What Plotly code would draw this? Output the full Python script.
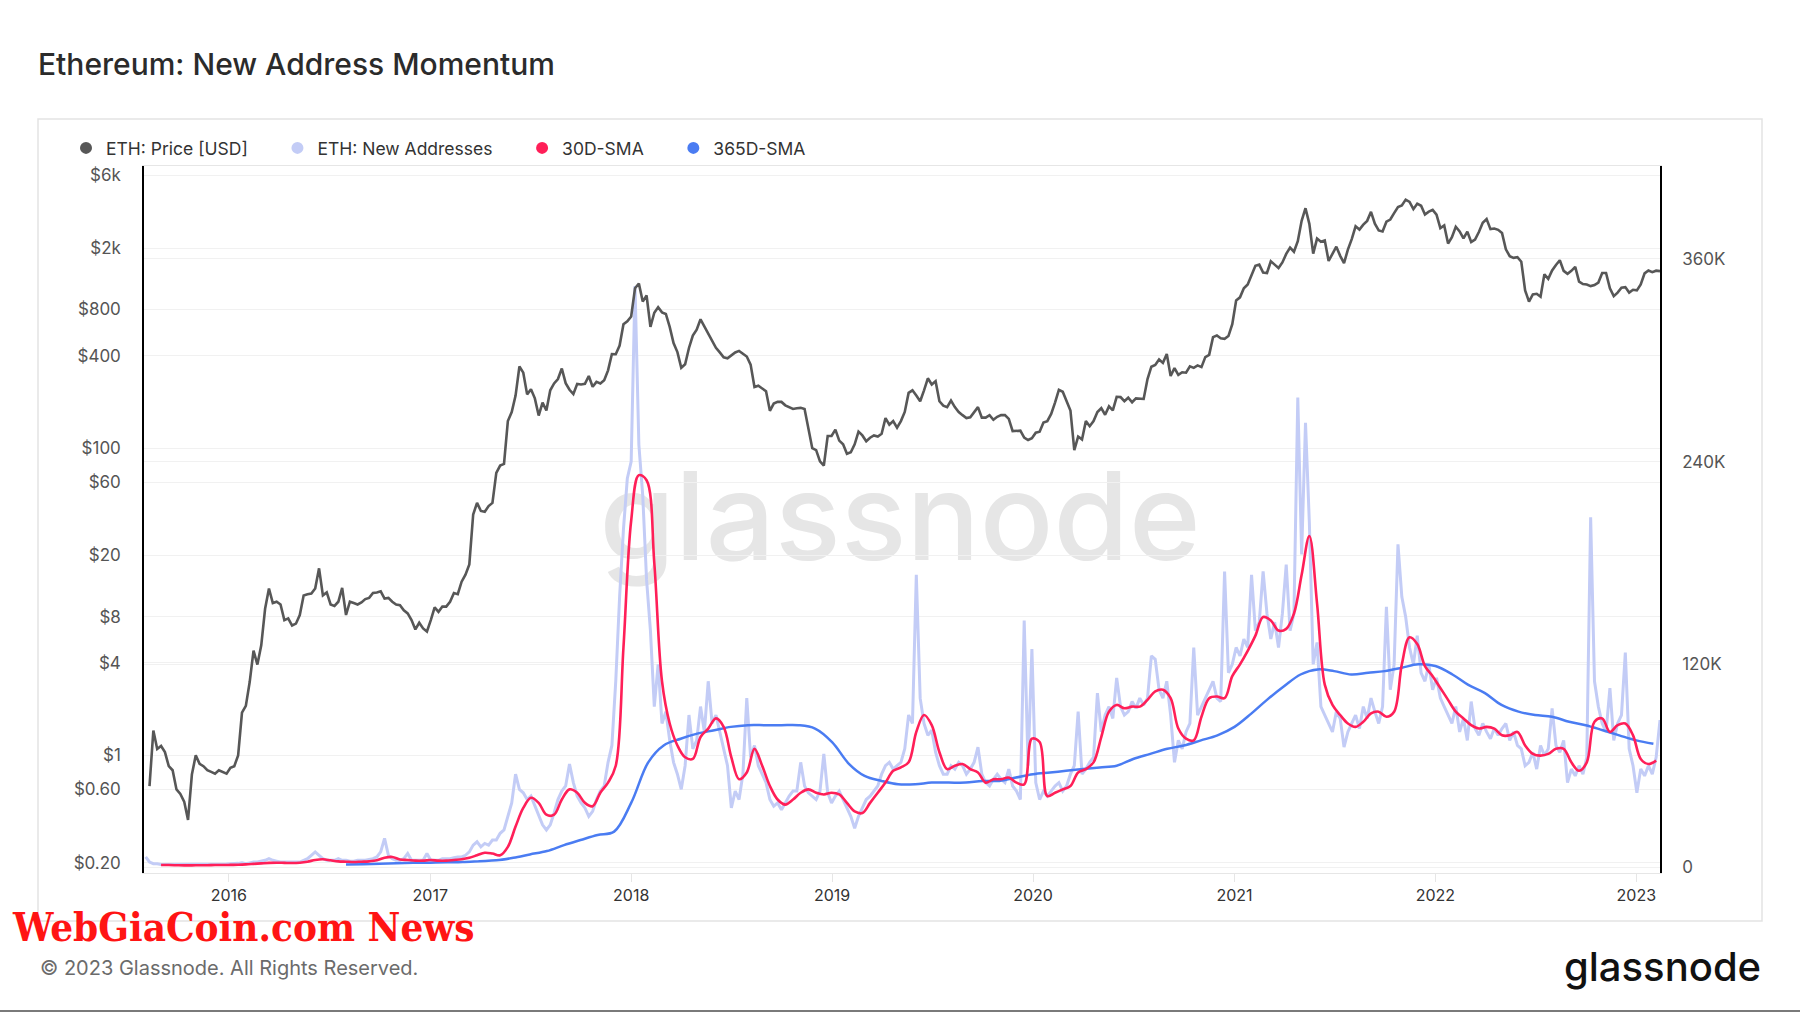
import pandas as pd
import plotly.graph_objects as go

# ---------------- data ----------------
# weekly samples (Mondays) starting 2015-08-03, one row = 13 weeks
week_start = "2015-08-03"

price_usd = [
    None, 0.63, 1.45, 1.1, 1.15, 1.05, 0.85, 0.8, 0.6, 0.56, 0.5, 0.38, 0.75,
    1.0, 0.88, 0.85, 0.8, 0.78, 0.76, 0.8, 0.78, 0.76, 0.83, 0.85, 1.0, 1.9,
    2.1, 3.0, 4.8, 3.9, 5.2, 9.0, 12.2, 9.8, 10.0, 9.6, 7.6, 7.8, 7.0,
    7.2, 8.2, 11.0, 11.2, 11.3, 12.2, 16.5, 11.0, 11.5, 9.6, 9.4, 10.0, 12.3,
    8.2, 10.0, 9.8, 9.6, 9.9, 10.4, 10.6, 11.4, 11.5, 11.7, 10.5, 10.6, 10.0,
    9.6, 9.5, 8.8, 8.4, 7.6, 6.6, 7.3, 6.7, 6.4, 7.6, 9.2, 8.6, 9.3,
    9.3, 10.0, 11.4, 11.2, 13.5, 15.0, 17.5, 37.0, 44.0, 39.0, 38.5, 42.0, 44.0,
    69, 77, 79, 150, 172, 220, 340, 310, 224, 242, 211, 163, 198,
    176, 238, 264, 282, 330, 265, 240, 225, 262, 260, 262, 295, 251,
    270, 264, 277, 321, 410, 409, 466, 640, 669, 720, 1100, 1180, 900,
    986, 616, 761, 827, 766, 748, 616, 484, 422, 334, 352, 449, 540,
    590, 690, 620, 560, 500, 450, 420, 390, 385, 405, 420, 430, 410,
    395, 350, 250, 255, 245, 235, 175, 195, 200, 200, 190, 185, 180,
    182, 183, 180, 130, 100, 97, 82, 77, 120, 120, 132, 112, 106,
    92, 94, 106, 128, 121, 111, 117, 121, 119, 124, 157, 142, 150,
    136, 150, 172, 229, 238, 220, 202, 238, 285, 260, 273, 202, 189,
    185, 204, 185, 172, 164, 157, 159, 173, 185, 158, 158, 164, 153,
    160, 164, 164, 155, 129, 130, 130, 117, 113, 116, 126, 128, 147,
    150, 167, 198, 240, 233, 202, 176, 97, 119, 114, 150, 139, 150,
    172, 182, 165, 187, 176, 216, 215, 202, 213, 199, 211, 211, 209,
    282, 339, 348, 378, 359, 410, 295, 332, 300, 312, 310, 341, 333,
    346, 337, 392, 405, 528, 541, 519, 515, 537, 642, 915, 959, 1100,
    1162, 1329, 1540, 1566, 1390, 1382, 1646, 1566, 1487, 1619, 1839, 2024, 1901,
    2226, 3018, 3650, 2886, 1848, 2314, 2209, 2253, 1654, 1839, 2050, 1786, 1602,
    1962, 2297, 2781, 2649, 2851, 3018, 3458, 2895, 2614, 2578, 2983, 3080, 3388,
    3714, 3802, 4150, 4013, 3599, 3907, 3784, 3318, 3467, 3555, 3318, 2710, 2816,
    2147, 2367, 2763, 2578, 2323, 2570, 2200, 2279, 2552, 2930, 3098, 2666, 2693,
    2640, 2517, 1971, 1778, 1734, 1751, 1637, 1065, 900, 1003, 1012, 968, 1355,
    1267, 1434, 1558, 1672, 1426, 1364, 1426, 1514, 1214, 1170, 1162, 1135, 1153,
    1197, 1382, 1382, 1100, 977, 1030, 1109, 1118, 1030, 1074, 1065, 1162, 1373,
    1434, 1400, 1430, 1420,
]

# new addresses per day, thousands, same weekly grid
new_addresses_k = [
    6, 3, 2, 2, 1.5, 1.5, 1.5, 1.5, 1.5, 1.5, 1.5, 1.5, 1.5,
    1.5, 1.5, 1.5, 1.5, 1.5, 1.5, 1.5, 1.8, 1.8, 2, 2, 2.2, 2.5,
    2, 2.5, 3, 3, 3.5, 4, 5, 4, 3.5, 3, 3, 3, 3,
    3, 3, 4, 5, 7, 9, 7, 5, 4, 4, 4, 5, 4,
    4, 3.5, 3.5, 4, 4, 4, 4.5, 5, 6, 9, 17, 7, 5,
    4, 4, 5, 8, 4, 4, 4, 4, 8, 4, 4, 4, 5,
    5, 5, 5.5, 6, 6, 7, 9, 13, 15, 12, 14, 13, 16,
    16, 20, 22, 30, 38, 55, 46, 44, 40, 42, 36, 30, 25,
    22, 25, 32, 40, 45, 48, 61, 50, 42, 38, 35, 30, 33,
    40, 45, 48, 62, 72, 110, 160, 200, 230, 240, 344, 250, 220,
    170, 140, 95, 120, 85, 92, 75, 62, 55, 46, 60, 90, 70,
    75, 95, 80, 110, 85, 90, 80, 70, 60, 35, 45, 40, 55,
    100, 65, 72, 60, 55, 50, 40, 36, 38, 34, 38, 42, 45,
    45, 62, 48, 44, 42, 40, 45, 67, 44, 38, 42, 45, 40,
    35, 30, 23, 30, 35, 40, 42, 45, 48, 55, 60, 62, 58,
    60, 62, 70, 90, 85, 173, 100, 85, 78, 81, 68, 60, 55,
    55, 60, 58, 62, 60, 55, 58, 62, 71, 55, 50, 48, 52,
    55, 52, 50, 58, 48, 45, 40, 146, 60, 129, 50, 40, 45,
    42, 45, 48, 50, 45, 48, 55, 60, 92, 55, 58, 62, 65,
    103, 80, 90, 95, 88, 112, 95, 90, 92, 98, 94, 100, 96,
    100, 125, 123, 105, 100, 110, 90, 62, 75, 70, 80, 85, 130,
    90, 95, 100, 105, 110, 100, 98, 175, 115, 120, 130, 125, 135,
    130, 173, 140, 145, 175, 150, 135, 145, 130, 150, 179, 140, 150,
    278, 185, 263, 204, 120, 133, 95, 90, 85, 80, 92, 88, 71,
    80, 85, 90, 82, 95, 88, 100, 92, 85, 95, 154, 105, 120,
    191, 160, 148, 130, 120, 137, 115, 110, 120, 105, 112, 100, 95,
    90, 85, 95, 80, 88, 75, 98, 82, 78, 85, 80, 76, 82,
    78, 82, 85, 75, 80, 72, 70, 60, 62, 68, 58, 72, 66,
    70, 94, 72, 68, 75, 50, 58, 54, 60, 55, 65, 207, 110,
    95, 85, 80, 106, 75, 85, 90, 127, 70, 60, 44, 58, 54,
    60, 55, 65, 87,
]

# 30D-SMA, thousands, every 14 days from 2015-08-31 (two rows = 1 year)
sma30_start = "2015-08-31"
sma30_k = [
    1.2, 1.2, 1.1, 1.0, 1.0, 1.1, 1.1, 1.2, 1.2, 1.3, 1.4, 1.6, 1.9,
    2.2, 2.5, 2.6, 2.5, 2.4, 2.6, 3.2, 4.2, 4.6, 4.0, 3.4, 3.2, 3.0,
    3.2, 3.4, 4.0, 5.5, 6.0, 4.5, 4.2, 3.8, 3.8, 4.2, 3.8, 3.8, 4.2,
    4.6, 5.5, 7.0, 8.5, 8.0, 7.0, 12, 24, 35, 41, 38, 31, 31,
    40, 46, 44, 38, 36, 44, 50, 60, 130, 205, 232, 229, 180,
    110, 85, 72, 65, 64, 77, 82, 88, 83, 65, 52, 56, 70,
    60, 48, 40, 37, 40, 44, 46, 44, 43, 44, 43, 38, 33,
    32, 38, 44, 50, 57, 59, 62, 80, 90, 84, 68, 58, 60,
    61, 58, 56, 50, 52, 52, 53, 50, 49, 76, 74, 42, 44,
    46, 48, 56, 58, 62, 77, 92, 96, 94, 95, 95, 99, 104,
    105, 100, 82, 76, 75, 89, 100, 101, 100, 113, 120, 128, 137,
    148, 146, 140, 141, 150, 173, 196, 156, 108, 96, 90, 85, 83,
    86, 91, 92, 89, 92, 120, 136, 132, 119, 113, 106, 99, 92,
    88, 84, 82, 83, 82, 78, 78, 80, 72, 67, 66, 67, 70,
    70, 62, 57, 62, 86, 88, 80, 84, 85, 78, 64, 61, 63,
]

# 365D-SMA, thousands, monthly from 2016-08-01
sma365_start = "2016-08-01"
sma365_k = [
    1.5, 1.7, 2.0, 2.3, 2.5,
    2.6, 2.8, 3.0, 3.5, 4.0, 5.5, 7.5, 9.5, 13, 16, 19, 21,
    38, 62, 72, 76, 79, 81, 83, 84, 84, 84, 84, 82,
    74, 61, 54, 51, 49, 49, 50, 50, 50, 51, 51, 53,
    55, 56, 57, 58, 59, 60, 64, 67, 70, 72, 75, 78,
    83, 91, 99, 107, 114, 117, 116, 114, 115, 116, 118, 120,
    119, 114, 108, 103, 96, 92, 90, 89, 86, 84, 81, 78,
    75, 73,
]

price_tickvals = [0.2, 0.6, 1, 4, 8, 20, 60, 100, 400, 800, 2000, 6000]
price_ticktext = ["$0.20", "$0.60", "$1", "$4", "$8", "$20", "$60", "$100",
                  "$400", "$800", "$2k", "$6k"]
addr_tickvals = [0, 120, 240, 360]
addr_ticktext = ["0", "120K", "240K", "360K"]
year_ticks = ["2016-01-01", "2017-01-01", "2018-01-01", "2019-01-01",
              "2020-01-01", "2021-01-01", "2022-01-01", "2023-01-01"]
year_labels = ["2016", "2017", "2018", "2019", "2020", "2021", "2022", "2023"]

# ---------------- layout helpers ----------------
W, H = 1800, 1013
L, R, T, B = 144, 140, 166, 140


def px(x):
    return (x - L) / (W - L - R)


def py(y):
    return (H - B - y) / (H - T - B)


FONT = "Inter"
C_PRICE = "#575757"
C_NEW = "#c3ccf6"
C_30 = "#ff1f58"
C_365 = "#4a7cf2"
PAD = "\u00a0" * 5   # extra room between legend entries

weeks = pd.date_range(week_start, periods=len(price_usd), freq="7D")
weeks_na = pd.date_range(week_start, periods=len(new_addresses_k), freq="7D")
sma30_dates = pd.date_range(sma30_start, periods=len(sma30_k), freq="14D")
sma365_dates = pd.date_range(sma365_start, periods=len(sma365_k), freq="MS")

fig = go.Figure()

fig.add_trace(go.Scatter(x=weeks_na, y=new_addresses_k, yaxis="y",
                         mode="lines", line=dict(color=C_NEW, width=3),
                         showlegend=False, name="ETH: New Addresses"))
fig.add_trace(go.Scatter(x=sma365_dates, y=sma365_k, yaxis="y",
                         mode="lines", line=dict(color=C_365, width=2.5, shape="spline"),
                         showlegend=False, name="365D-SMA"))
fig.add_trace(go.Scatter(x=sma30_dates, y=sma30_k, yaxis="y",
                         mode="lines", line=dict(color=C_30, width=2.6, shape="spline"),
                         showlegend=False, name="30D-SMA"))
fig.add_trace(go.Scatter(x=weeks, y=price_usd, yaxis="y2",
                         mode="lines", line=dict(color=C_PRICE, width=2.6),
                         showlegend=False, name="ETH: Price [USD]"))

# legend entries with round markers
for name, col in [("ETH: Price [USD]" + PAD, C_PRICE), ("ETH: New Addresses" + PAD, C_NEW),
                  ("30D-SMA" + PAD, C_30), ("365D-SMA", C_365)]:
    fig.add_trace(go.Scatter(x=[None], y=[None], mode="markers", name=name,
                             marker=dict(color=col, size=12, symbol="circle")))

fig.update_layout(
    width=W, height=H, autosize=False,
    margin=dict(l=L, r=R, t=T, b=B),
    paper_bgcolor="white", plot_bgcolor="white",
    font=dict(family=FONT, color="#333"),
    title=dict(text="Ethereum: New Address Momentum", xref="container", yref="container",
               x=38 / W, xanchor="left", y=1 - 64 / H, yanchor="middle",
               font=dict(family=FONT, size=30, color="#2b2b2b", weight=500)),
    legend=dict(orientation="h", x=px(66), xanchor="left", y=py(148), yanchor="middle",
                font=dict(family=FONT, size=17.5, color="#333"), bgcolor="rgba(0,0,0,0)"),
    xaxis=dict(type="date", range=["2015-07-31", "2023-02-13"],
               tickvals=year_ticks, ticktext=year_labels,
               showgrid=False, zeroline=False,
               showline=True, linecolor="#e6e6e6", linewidth=1, mirror=True,
               ticks="outside", ticklen=8, tickcolor="#e6e6e6",
               tickfont=dict(family=FONT, size=16, color="#333")),
    yaxis=dict(side="right", range=[-3.5, 415],
               tickvals=addr_tickvals, ticktext=addr_ticktext,
               showgrid=True, gridcolor="#f1f1f1", zeroline=False,
               showline=True, linecolor="black", linewidth=1.5,
               ticks="", ticklabelstandoff=17,
               tickfont=dict(family=FONT, size=17, color="#555")),
    yaxis2=dict(overlaying="y", side="left", type="log", range=[-0.766, 3.837],
                tickvals=price_tickvals, ticktext=price_ticktext,
                showgrid=True, gridcolor="#f1f1f1", zeroline=False,
                showline=True, linecolor="black", linewidth=1.5,
                ticks="", ticklabelstandoff=18,
                tickfont=dict(family=FONT, size=17, color="#555")),
    shapes=[
        dict(type="rect", xref="paper", yref="paper",
             x0=px(38), x1=px(1762), y0=py(921), y1=py(119),
             line=dict(color="#e3e3e3", width=1.5), layer="below"),
        dict(type="rect", xref="paper", yref="paper",
             x0=px(600), x1=px(1200), y0=py(564), y1=py(459),
             line=dict(width=0), layer="below",
             label=dict(text="glassnode", textposition="middle center",
                        font=dict(family=FONT, size=122, color="#e6e6e6", weight=500))),
        dict(type="line", xref="paper", yref="paper",
             x0=px(0), x1=px(1800), y0=py(1011), y1=py(1011),
             line=dict(color="#7a7a7a", width=2)),
    ],
    annotations=[
        dict(text="<b>WebGiaCoin.com News</b>", xref="paper", yref="paper",
             x=px(10), y=py(926), xanchor="left", yanchor="middle", showarrow=False,
             font=dict(family="DejaVu Serif Condensed", size=40, color="#ff1414")),
        dict(text="© 2023 Glassnode. All Rights Reserved.", xref="paper", yref="paper",
             x=px(38), y=py(968), xanchor="left", yanchor="middle", showarrow=False,
             font=dict(family=FONT, size=20, color="#6b6b6b")),
        dict(text="glassnode", xref="paper", yref="paper",
             x=px(1763), y=py(966), xanchor="right", yanchor="middle", showarrow=False,
             font=dict(family=FONT, size=40, color="#111", weight=500)),
    ],
)

fig.write_html("out.html", config={"displayModeBar": False},
               post_script="document.body.style.margin='0px';")
